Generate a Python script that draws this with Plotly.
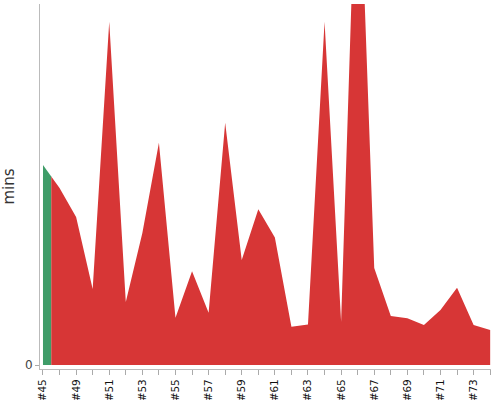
import plotly.graph_objects as go

builds = ["#45", "#48", "#49", "#50", "#51", "#52", "#53", "#54", "#55", "#56",
          "#57", "#58", "#59", "#60", "#61", "#62", "#63", "#64", "#65", "#66",
          "#67", "#68", "#69", "#70", "#71", "#72", "#73", "#74"]
durations = [11.08, 9.81, 8.2, 4.21, 19.02, 3.49, 7.31, 12.32, 2.62, 5.2,
             2.9, 13.42, 5.82, 8.63, 7.07, 2.12, 2.25, 19.02, 2.4, 30.9,
             5.37, 2.71, 2.59, 2.22, 3.05, 4.28, 2.22, 1.94]
statuses = ["success"] + ["failure"] * (len(builds) - 1)

GREEN = "#3f9c68"
RED = "#d73636"

idx = list(range(len(builds)))
mid = (durations[0] + durations[1]) / 2

fig = go.Figure()
fig.add_trace(go.Scatter(
    x=[idx[0], 0.5], y=[durations[0], mid],
    mode="lines", line=dict(width=0, color=GREEN),
    fill="tozeroy", fillcolor=GREEN, hoverinfo="skip", showlegend=False))
fig.add_trace(go.Scatter(
    x=[0.5] + idx[1:], y=[mid] + durations[1:],
    mode="lines", line=dict(width=0, color=RED),
    fill="tozeroy", fillcolor=RED, showlegend=False))

ticktext = [b if i % 2 == 0 else "" for i, b in enumerate(builds)]

fig.update_layout(
    width=500, height=400,
    margin=dict(l=40, r=9, t=4, b=31, autoexpand=False),
    paper_bgcolor="white", plot_bgcolor="white",
    font=dict(family="DejaVu Sans", color="#222"),
    xaxis=dict(
        automargin=False,
        range=[-0.18, 27.05], tickmode="array", tickvals=idx, ticktext=ticktext,
        tickangle=-90, ticks="outside", ticklen=5, tickcolor="#aaa",
        showline=True, linecolor="#bbb", showgrid=False, zeroline=False,
        tickfont=dict(size=10.5, color="#111", family="DejaVu Sans"),
    ),
    yaxis=dict(
        automargin=False,
        range=[-0.22, 20], tickmode="array", tickvals=[0], ticktext=["0"],
        ticks="outside", ticklen=4, tickcolor="#aaa",
        showline=True, linecolor="#bbb", showgrid=False, zeroline=False,
        tickfont=dict(size=12, color="#444"),
        title=dict(text="mins", font=dict(size=15, color="#333"), standoff=8),
    ),
)

fig.write_html("out.html", config={"displayModeBar": False},
               post_script="document.body.style.margin='0';")
